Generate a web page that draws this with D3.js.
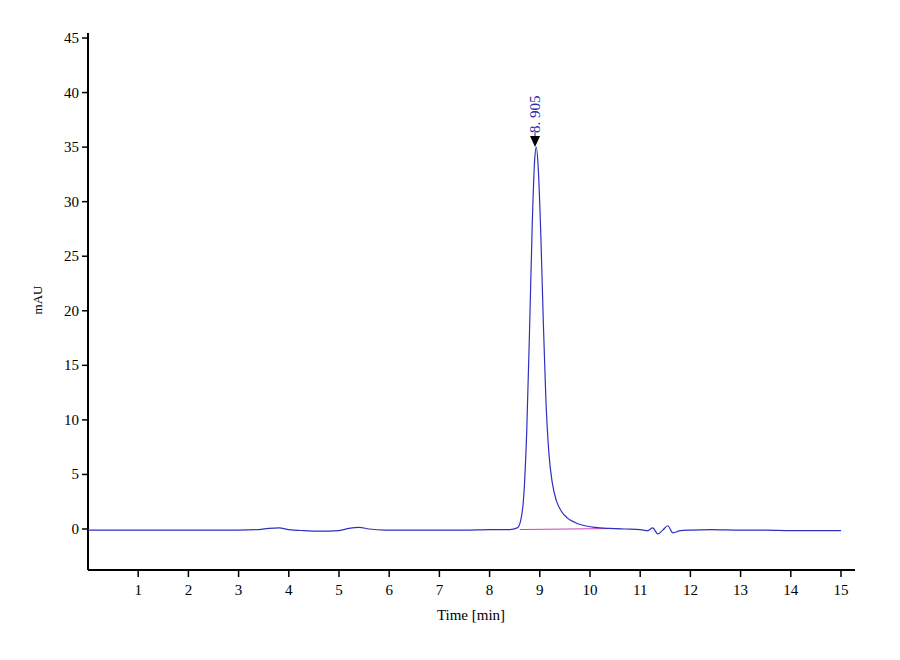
<!DOCTYPE html>
<html><head><meta charset="utf-8">
<script src="https://cdn.jsdelivr.net/npm/d3@7"></script>
<style>body{margin:0;background:#fff}text{font-family:"Liberation Serif",serif}</style>
</head><body>
<div id="chart"></div>
<script>
// chromatogram trace (time min, mAU)
var times = [0, 0.5, 1, 1.5, 2, 2.5, 3, 3.4, 3.6, 3.8, 4.0, 4.3, 4.6, 5.0, 5.2, 5.4, 5.6, 5.9, 6.5, 7, 7.5, 8, 8.4, 8.55, 8.62, 8.68, 8.74, 8.8, 8.85, 8.9, 8.93, 8.97, 9.02, 9.07, 9.12, 9.18, 9.25, 9.33, 9.42, 9.55, 9.7, 9.9, 10.1, 10.4, 10.7, 11.0, 11.15, 11.25, 11.35, 11.45, 11.55, 11.65, 11.8, 12.0, 12.4, 13, 13.5, 14, 14.5, 15];
var signal = [-0.1, -0.1, -0.1, -0.1, -0.1, -0.1, -0.1, -0.05, 0.05, 0.1, -0.05, -0.15, -0.2, -0.15, 0.05, 0.15, 0.0, -0.1, -0.1, -0.1, -0.1, -0.05, -0.05, 0.1, 0.8, 3, 9, 19, 28, 34, 35, 33, 27, 19, 12, 7, 4.2, 2.6, 1.7, 1.0, 0.6, 0.3, 0.15, 0.05, 0.0, -0.05, -0.15, 0.1, -0.45, -0.1, 0.3, -0.35, -0.15, -0.1, -0.05, -0.1, -0.1, -0.15, -0.15, -0.15];
var baseT = [8.6, 10.6];
var baseV = [-0.05, 0.05];
var xTicks = [1,2,3,4,5,6,7,8,9,10,11,12,13,14,15];
var yTicks = [0,5,10,15,20,25,30,35,40,45];
var peakTime = 8.905, peakVal = 35, peakLabel = "8. 905";

var W = 900, H = 660;
var svg = d3.select("#chart").append("svg").attr("width", W).attr("height", H);
var x = d3.scaleLinear().domain([0, 15]).range([88, 841]);
var y = d3.scaleLinear().domain([0, 45]).range([529, 38]);

// axes
svg.append("line").attr("x1", 88).attr("x2", 855).attr("y1", 570).attr("y2", 570)
  .attr("stroke", "#000").attr("stroke-width", 2);
svg.append("line").attr("x1", 88).attr("x2", 88).attr("y1", 33).attr("y2", 570)
  .attr("stroke", "#000").attr("stroke-width", 2);

svg.selectAll(".xt").data(xTicks).enter().append("line")
  .attr("x1", d => x(d)).attr("x2", d => x(d)).attr("y1", 570).attr("y2", 577)
  .attr("stroke", "#000").attr("stroke-width", 1.5);
svg.selectAll(".xl").data(xTicks).enter().append("text")
  .attr("x", d => x(d)).attr("y", 595).attr("text-anchor", "middle")
  .attr("font-size", 15).text(d => d);

svg.selectAll(".yt").data(yTicks).enter().append("line")
  .attr("x1", 82).attr("x2", 88).attr("y1", d => y(d)).attr("y2", d => y(d))
  .attr("stroke", "#000").attr("stroke-width", 1.5);
svg.selectAll(".yl").data(yTicks).enter().append("text")
  .attr("x", 79).attr("y", d => y(d) + 5).attr("text-anchor", "end")
  .attr("font-size", 15).text(d => d);

svg.append("text").attr("x", 471).attr("y", 620).attr("text-anchor", "middle")
  .attr("font-size", 15).text("Time [min]");
svg.append("text").attr("transform", "translate(42,300) rotate(-90)")
  .attr("text-anchor", "middle").attr("font-size", 13).text("mAU");

// baseline
svg.append("path").datum(baseT.map((t, i) => [t, baseV[i]]))
  .attr("d", d3.line().x(d => x(d[0])).y(d => y(d[1])))
  .attr("fill", "none").attr("stroke", "#d040c0").attr("stroke-width", 1);

// trace
svg.append("path").datum(times.map((t, i) => [t, signal[i]]))
  .attr("d", d3.line().curve(d3.curveMonotoneX).x(d => x(d[0])).y(d => y(d[1])))
  .attr("fill", "none").attr("stroke", "#3030c0").attr("stroke-width", 1.2);

// peak marker
var px = x(peakTime), py = y(peakVal);
svg.append("path").attr("d", `M${px-5},${py-11}L${px+5},${py-11}L${px},${py}Z`).attr("fill", "#000");
svg.append("line").attr("x1", px).attr("x2", px).attr("y1", py - 15).attr("y2", py - 11)
  .attr("stroke", "#2020a0");
svg.append("text").attr("transform", `translate(${px + 5},${py - 14}) rotate(-90)`)
  .attr("font-size", 15).attr("fill", "#2a2ab0").text(peakLabel);
</script>
</body></html>
